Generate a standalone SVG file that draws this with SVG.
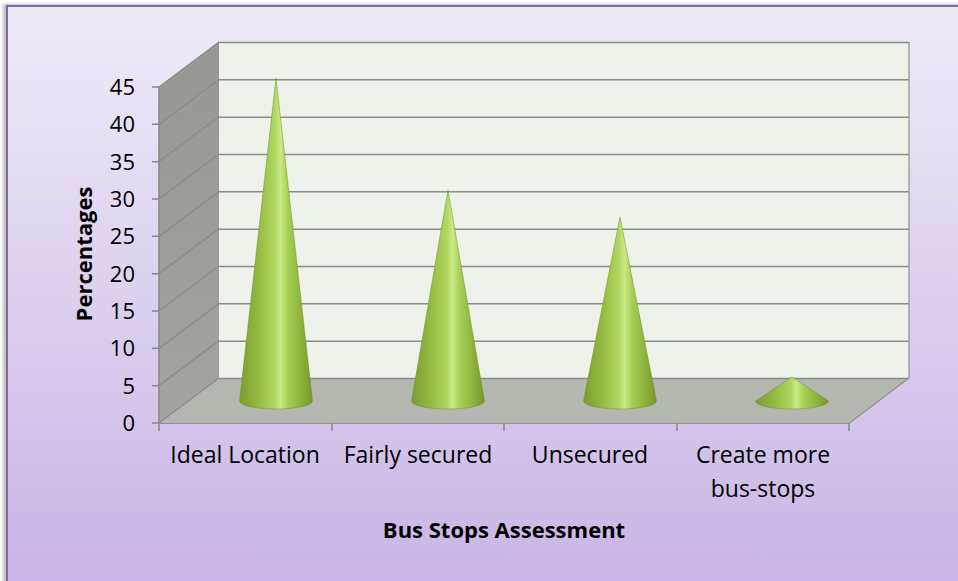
<svg xmlns="http://www.w3.org/2000/svg" width="958" height="581" viewBox="0 0 958 581">
  <defs>
    <linearGradient id="bg" x1="0" y1="0" x2="0" y2="1">
      <stop offset="0" stop-color="#f0ebf8"/>
      <stop offset="1" stop-color="#c6b4e5"/>
    </linearGradient>
    <linearGradient id="side" x1="0" y1="0" x2="0" y2="1">
      <stop offset="0" stop-color="#979893"/>
      <stop offset="1" stop-color="#a3a49f"/>
    </linearGradient>
    <linearGradient id="cone" x1="0" y1="0" x2="1" y2="0">
      <stop offset="0" stop-color="#7c9c30"/>
      <stop offset="0.25" stop-color="#93b940"/>
      <stop offset="0.48" stop-color="#b0d660"/>
      <stop offset="0.56" stop-color="#cbe985"/>
      <stop offset="0.66" stop-color="#a8cf55"/>
      <stop offset="0.85" stop-color="#8cb23c"/>
      <stop offset="1" stop-color="#76962c"/>
    </linearGradient>
    <filter id="shadow" x="-5%" y="-5%" width="110%" height="110%">
      <feGaussianBlur stdDeviation="1.5"/>
    </filter>
  </defs>
  <style>
    .grid { stroke: #8b8d89; stroke-width: 1.5; fill: none; }
    .edge { stroke: #8e908c; stroke-width: 1.2; fill: none; }
    .tick { stroke: #868686; stroke-width: 1.5; }
    .num { font-family: "Open Sans", "Noto Sans", sans-serif; font-size: 22px; fill: #000; text-anchor: end; }
    .cat { font-family: "Open Sans", "Noto Sans", sans-serif; font-size: 23px; fill: #000; text-anchor: middle; }
    .title { font-family: "Open Sans", "Noto Sans", sans-serif; font-size: 22px; font-weight: bold; fill: #000; text-anchor: middle; }
    .cone { fill: url(#cone); stroke: #6f8d28; stroke-width: 0.8; stroke-opacity: 0.6; }
  </style>

  <g id="background">
    <rect x="3" y="4" width="990" height="600" fill="#bdbdbd" filter="url(#shadow)"/>
    <rect x="7" y="6" width="985" height="600" fill="url(#bg)" stroke="#8064a2" stroke-width="2"/>
  </g>

  <g id="walls">
    <rect x="219" y="42" width="690" height="336" fill="#eef2ea"/>
    <polygon points="159,87 219,42 219,378 159,423" fill="url(#side)"/>
    <polygon points="159,423 219,378 909,378 849,423" fill="#b4b7af"/>
  </g>

  <g id="gridlines">
    <path class="grid" d="M219,42.5H909 M219,79.8H909 M219,117.2H909 M219,154.5H909 M219,191.8H909 M219,229.2H909 M219,266.5H909 M219,303.8H909 M219,341.2H909 M219,378.5H909"/>
    <path class="grid" d="M159,87 L219,42 M159,124.3 L219,79.3 M159,161.7 L219,116.7 M159,199 L219,154 M159,236.3 L219,191.3 M159,273.7 L219,228.7 M159,311 L219,266 M159,348.3 L219,303.3 M159,385.7 L219,340.7 M159,423 L219,378"/>
    <path class="edge" d="M909,42V378 M159,423.5H849 L909,378"/>
  </g>

  <g id="axes">
    <path class="tick" d="M159,87V431 M152,87H159 M152,124.3H159 M152,161.7H159 M152,199H159 M152,236.3H159 M152,273.7H159 M152,311H159 M152,348.3H159 M152,385.7H159 M152,423H159"/>
    <path class="tick" d="M332,423V431 M504,423V431 M677,423V431 M849,423V431"/>
    <g id="y-labels">
      <text class="num" x="135" y="95">45</text>
      <text class="num" x="135" y="132.3">40</text>
      <text class="num" x="135" y="169.7">35</text>
      <text class="num" x="135" y="207">30</text>
      <text class="num" x="135" y="244.3">25</text>
      <text class="num" x="135" y="281.7">20</text>
      <text class="num" x="135" y="319">15</text>
      <text class="num" x="135" y="356.3">10</text>
      <text class="num" x="135" y="393.7">5</text>
      <text class="num" x="135" y="431">0</text>
    </g>
  </g>

  <g id="cones">
    <path id="cone-ideal" class="cone" d="M239.5,401 L276,78 L312.5,401 A36.5,8 0 0 1 239.5,401 Z"/>
    <path id="cone-fairly" class="cone" d="M411.5,401 L448,190 L484.5,401 A36.5,8 0 0 1 411.5,401 Z"/>
    <path id="cone-unsecured" class="cone" d="M583.5,401 L620,217 L656.5,401 A36.5,8 0 0 1 583.5,401 Z"/>
    <path id="cone-create" class="cone" d="M755.5,401 L792,377 L828.5,401 A36.5,8 0 0 1 755.5,401 Z"/>
  </g>

  <g id="category-labels">
    <text class="cat" x="245" y="463">Ideal Location</text>
    <text class="cat" x="418" y="463">Fairly secured</text>
    <text class="cat" x="590" y="463">Unsecured</text>
    <text class="cat" x="763" y="463">Create more</text>
    <text class="cat" x="763" y="497">bus-stops</text>
  </g>

  <g id="axis-titles">
    <text class="title" x="504" y="538">Bus Stops Assessment</text>
    <text class="title" transform="translate(92,254) rotate(-90)" x="0" y="0">Percentages</text>
  </g>
</svg>
